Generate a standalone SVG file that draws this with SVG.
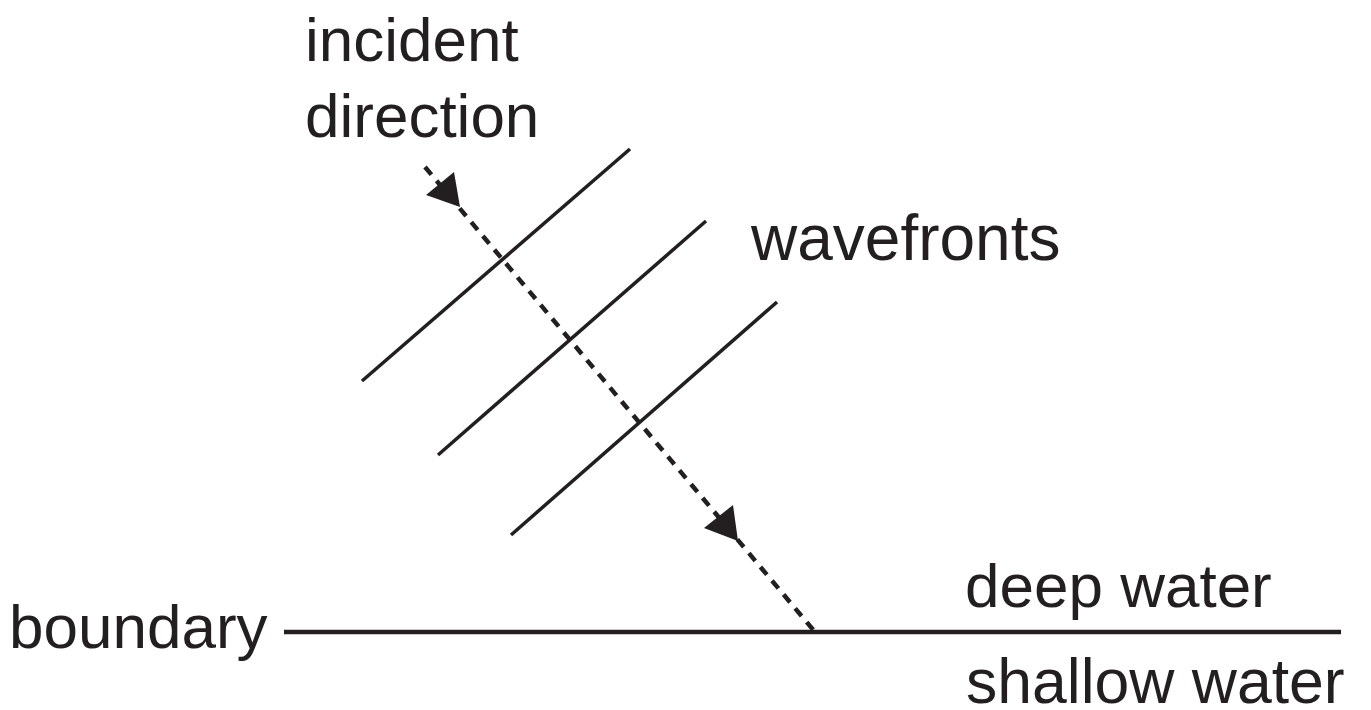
<svg xmlns="http://www.w3.org/2000/svg" width="1371" height="710" viewBox="0 0 1371 710">
<style>
text{font-family:"Liberation Sans",Arial,sans-serif;font-size:62px;fill:#231f20}
.wf{stroke:#231f20;stroke-width:3.5;fill:none}
.dir{stroke:#231f20;stroke-width:4.5;fill:none;stroke-dasharray:10 8}
.bd{stroke:#231f20;stroke-width:4.5;fill:none}
.ah{fill:#231f20}
</style>
<rect width="1371" height="710" fill="#fff"/>
<g id="labels">
<text x="305" y="61">incident</text>
<text x="305" y="137">direction</text>
<text x="751" y="260" style="font-size:64px">wavefronts</text>
<text x="965" y="607">deep water</text>
<text x="966" y="703" style="font-size:62.5px">shallow water</text>
<text x="9" y="648">boundary</text>
</g>
<g id="wavefronts">
<line class="wf" x1="362" y1="381" x2="630" y2="149"/>
<line class="wf" x1="438" y1="455" x2="706" y2="221"/>
<line class="wf" x1="511" y1="535" x2="777" y2="302"/>
</g>
<g id="boundary">
<line class="bd" x1="284" y1="632" x2="1341" y2="632"/>
</g>
<g id="connectors">
<line class="dir" x1="425" y1="167" x2="815" y2="632"/>
<polygon class="ah" points="460,207 426,195 454,172"/>
<polygon class="ah" points="738,541 704,528 733,505"/>
</g>
</svg>
